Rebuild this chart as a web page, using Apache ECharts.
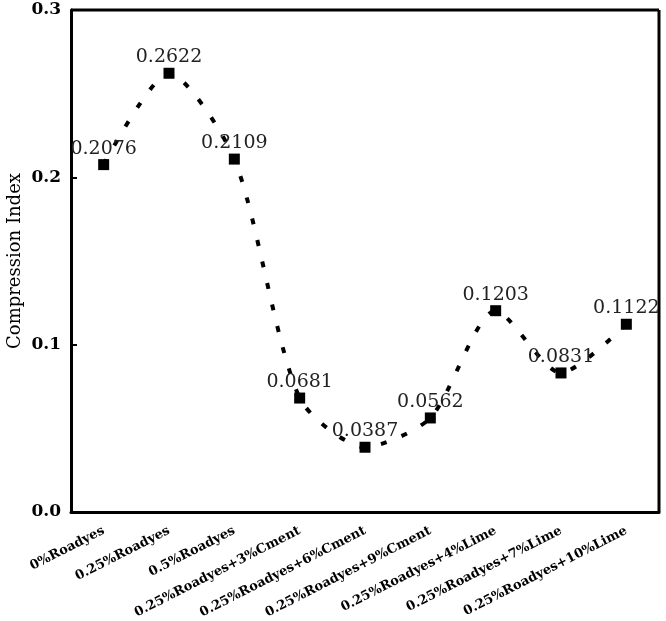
<!DOCTYPE html>
<html>
<head>
<meta charset="utf-8">
<script src="https://cdn.jsdelivr.net/npm/echarts@6/dist/echarts.min.js"></script>
<style>
  html, body { margin: 0; padding: 0; background: #fff; }
  #chart { width: 666px; height: 621px; }
</style>
</head>
<body>
<div id="chart"></div>
<script>
// 横轴类别
const categories = [
  '0%Roadyes',
  '0.25%Roadyes',
  '0.5%Roadyes',
  '0.25%Roadyes+3%Cment',
  '0.25%Roadyes+6%Cment',
  '0.25%Roadyes+9%Cment',
  '0.25%Roadyes+4%Lime',
  '0.25%Roadyes+7%Lime',
  '0.25%Roadyes+10%Lime'
]
// 压缩指数
const compressionIndex = [0.2076, 0.2622, 0.2109, 0.0681, 0.0387, 0.0562, 0.1203, 0.0831, 0.1122]

const serif = '"DejaVu Serif", "Liberation Serif", serif'

const chart = echarts.init(document.getElementById('chart'))
const option = {
  backgroundColor: '#fff',
  grid: { left: 71, right: 7, top: 10, bottom: 109, outerBoundsMode: 'none' },
  xAxis: {
    type: 'category',
    data: categories,
    boundaryGap: true,
    axisLine: { lineStyle: { color: '#000', width: 3 } },
    axisTick: { inside: true, length: 5, lineStyle: { color: '#000', width: 2 } },
    axisLabel: {
      rotate: 27,
      interval: 0,
      color: '#000',
      fontFamily: serif,
      fontWeight: 'bold',
      fontSize: 13,
      margin: 18
    },
    splitLine: { show: false }
  },
  yAxis: {
    type: 'value',
    min: 0,
    max: 0.3,
    interval: 0.1,
    name: 'Compression Index',
    nameLocation: 'middle',
    nameGap: 47,
    nameMoveOverlap: false,
    nameTextStyle: { color: '#000', fontFamily: serif, fontSize: 18 },
    axisLine: { show: true, lineStyle: { color: '#000', width: 3 } },
    axisTick: { show: true, inside: true, length: 6, lineStyle: { color: '#000', width: 2 } },
    axisLabel: {
      color: '#000',
      fontFamily: serif,
      fontWeight: 'bold',
      fontSize: 17,
      margin: 10,
      formatter: v => v.toFixed(1)
    },
    splitLine: { show: false }
  },
  series: [
    {
      type: 'line',
      data: compressionIndex,
      smooth: 0.25,
      symbol: 'rect',
      symbolSize: 11,
      itemStyle: { color: '#000' },
      lineStyle: { color: '#000', width: 4, type: [6, 16] },
      label: {
        show: true,
        position: 'top',
        distance: 1,
        color: '#222',
        fontFamily: serif,
        fontSize: 19,
        formatter: p => p.value.toFixed(4)
      }
    }
  ],
  // 上、右边框
  graphic: [
    { type: 'line', shape: { x1: 659, y1: 10, x2: 659, y2: 512 }, style: { stroke: '#000', lineWidth: 3 } },
    { type: 'line', shape: { x1: 71, y1: 10, x2: 659, y2: 10 }, style: { stroke: '#000', lineWidth: 3 } }
  ]
}
chart.setOption(option)
</script>
</body>
</html>
